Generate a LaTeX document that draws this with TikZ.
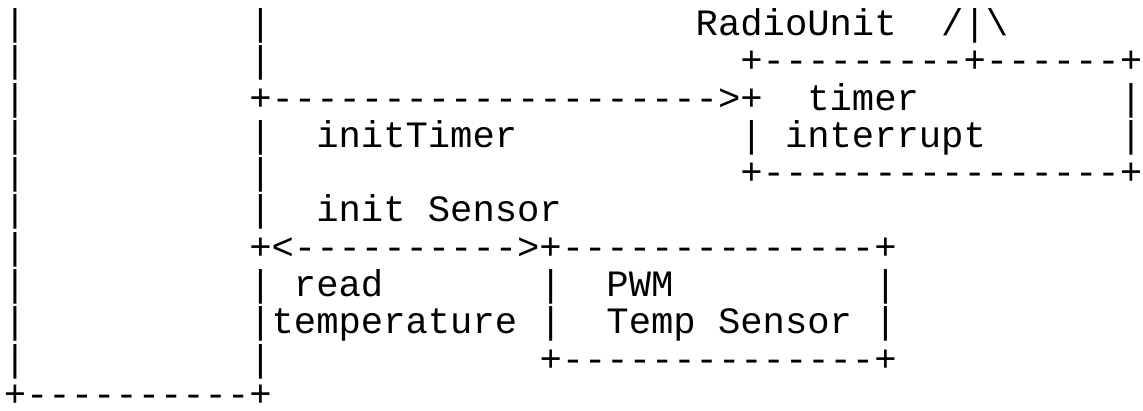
\documentclass[tikz,border=0pt]{standalone}
\usepackage{fontspec}
\setmonofont{Liberation Mono}

\begin{document}
\begin{tikzpicture}[
  x=11.16pt, y=-18.65pt,
  ascii/.style={inner sep=0pt,outer sep=0pt,anchor=base west,font=\ttfamily\fontsize{18.6}{18.65}\selectfont}
]
\useasboundingbox (-0.172,-0.949) rectangle (51.04,10.07);
% outer frame columns
\foreach \r in {0,...,9} \node[ascii] (outer\r) at (0,\r) {|};
\foreach \r in {0,1,3,4,5,7,8,9} \node[ascii] (inner\r) at (11,\r) {|};
\node[ascii] (outerbottom) at (0,9.95) {+----------+};
% radio unit
\node[ascii] (radio) at (31,0) {RadioUnit};
\node[ascii] (antenna) at (42,0) {/|\textbackslash};
\node[ascii] (radiotop) at (33,1) {+---------+------+};
\node[ascii] (inittimerline) at (11,2) {+-------------------->+};
\node[ascii] (timer) at (36,2) {timer};
\node[ascii] (radioright2) at (50,2) {|};
\node[ascii] (inittimer) at (14,3) {initTimer};
\node[ascii] (radioleft3) at (33,3) {|};
\node[ascii] (interrupt) at (35,3) {interrupt};
\node[ascii] (radioright3) at (50,3) {|};
\node[ascii] (radiobottom) at (33,4) {+----------------+};
% temperature sensor
\node[ascii] (initsensor) at (14,5) {init Sensor};
\node[ascii] (sensorline) at (11,6) {+<---------->+--------------+};
\node[ascii] (read) at (13,7) {read};
\node[ascii] (sensorleft7) at (24,7) {|};
\node[ascii] (pwm) at (27,7) {PWM};
\node[ascii] (sensorright7) at (39,7) {|};
\node[ascii] (temperature) at (12,8) {temperature};
\node[ascii] (sensorleft8) at (24,8) {|};
\node[ascii] (tempsensor) at (27,8) {Temp Sensor};
\node[ascii] (sensorright8) at (39,8) {|};
\node[ascii] (sensorbottom) at (24,9) {+--------------+};
\end{tikzpicture}
\end{document}
